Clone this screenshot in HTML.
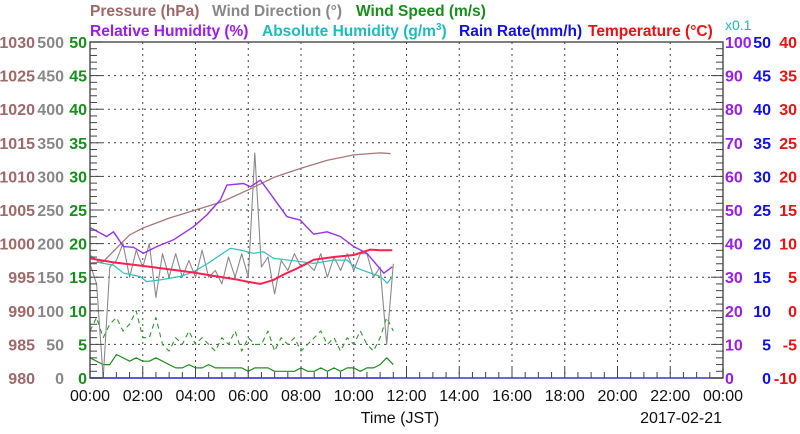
<!DOCTYPE html>
<html><head><meta charset="utf-8"><style>
html,body{margin:0;padding:0;background:#fff;}
svg{display:block;font-family:"Liberation Sans",sans-serif;}
</style></head><body>
<svg id="chart" width="800" height="434" viewBox="0 0 800 434" xmlns="http://www.w3.org/2000/svg">
<g id="titles" font-weight="bold" font-size="15.5">
 <text x="90" y="16" fill="#a06868">Pressure (hPa)</text>
 <text x="212" y="16" fill="#888">Wind Direction (°)</text>
 <text x="356" y="16" fill="#16901a">Wind Speed (m/s)</text>
 <text x="90" y="36" fill="#9a1cf0">Relative Humidity (%)</text>
 <text x="262" y="36" fill="#1cbcbc">Absolute Humidity (g/m<tspan font-size="10" dy="-6">3</tspan><tspan dy="6">)</tspan></text>
 <text x="459" y="36" fill="#1010ee">Rain Rate(mm/h)</text>
 <text x="588" y="36" fill="#f01010">Temperature (°C)</text>
 <text x="725" y="30" font-size="14" font-weight="normal" fill="#1cbcbc">x0.1</text>
</g>
<g id="grid"></g>
<g id="series"></g>
<g id="axes"></g>
<text x="400" y="423" font-size="16" text-anchor="middle" fill="#111">Time (JST)</text>
<text x="722" y="423" font-size="16" text-anchor="end" fill="#111">2017-02-21</text>
</svg>
<script>
// ---- data ----
const pressHours = [0,0.5,1,1.5,2,3,4,5,6,7,8,9,10,11,11.4];
const pressure = [997.1,997.3,999.3,1001.3,1002.3,1003.8,1005,1006.2,1008,1009.9,1011.2,1012.4,1013.2,1013.5,1013.4];
const rhHours = [0,0.63,0.89,1.27,1.65,2.03,2.53,3.16,3.92,4.43,4.94,5.19,5.82,6.08,6.46,6.96,7.47,7.97,8.48,8.99,9.49,10,10.5,11.14,11.46];
const relHum = [44.8,42.1,43.5,39.1,38.9,37.1,39.1,41.1,45,48.5,53,57.4,57.9,56.9,58.9,53.5,48,47,42.8,43.5,42.1,39.1,37.1,31.2,33.1];
const absHours = [0,0.38,0.89,1.27,1.9,2.15,2.66,3.42,3.92,4.43,4.94,5.32,5.7,6.2,6.58,6.96,7.72,8.48,9.24,9.75,10,10.5,11.01,11.27,11.46];
const absHum = [3.66,3.43,3.36,3.12,3.02,2.87,2.92,3.02,3.16,3.39,3.66,3.86,3.81,3.71,3.76,3.56,3.49,3.41,3.51,3.51,3.31,3.16,3.02,2.82,3.02];
const tempHours = [0,0.89,2.15,3.92,4.68,5.5,6.0,6.46,6.96,7.4,7.85,8.48,9.24,10,10.63,11.01,11.46];
const temperature = [7.8,7.2,6.6,5.7,5.2,4.7,4.3,4.0,4.6,5.5,6.3,7.6,8.0,8.3,9.1,9.0,9.0];
const windHours = [0,0.25,0.5,0.75,1,1.25,1.5,1.75,2,2.25,2.5,2.75,3,3.25,3.5,3.75,4,4.25,4.5,4.75,5,5.25,5.5,5.75,6,6.25,6.5,6.75,7,7.25,7.5,7.75,8,8.25,8.5,8.75,9,9.25,9.5,9.75,10,10.25,10.5,10.75,11,11.25,11.5];
const windDir = [170,140,0,165,175,200,150,190,165,200,120,185,150,185,150,175,150,190,150,160,140,180,150,185,150,335,165,180,125,175,160,185,165,170,160,185,150,180,160,185,160,185,185,150,165,50,170];
const windSpeed = [3,2.5,2,2,3.5,3,2.5,3,2.5,2.5,3,2.5,2,1.5,1.5,2,1.5,1.5,2,1.5,1.5,1.5,1.5,1.5,1,1.5,1.5,1.5,1,1,1,1,1.5,1,1,1.5,1,1.5,1,1.5,1.5,1,1.5,1.5,2,3,2];
const windGust = [7,9,6,8,9,7,8,10,6,6,9,5,4,6,5,7,5,6,5,4,6,5,7,4,6,5,5,7,4,6,5,6,4,5,6,7,5,6,4,6,5,7,5,4,6,9,7];
const rainHours = [0,11.4];
const rainRate = [0,0];
const xTickLabels = ["00:00","02:00","04:00","06:00","08:00","10:00","12:00","14:00","16:00","18:00","20:00","22:00","00:00"];
const pressTicks = [980,985,990,995,1000,1005,1010,1015,1020,1025,1030];
const dirTicks = [0,50,100,150,200,250,300,350,400,450,500];
const speedTicks = [0,5,10,15,20,25,30,35,40,45,50];
const rhTicks = [0,10,20,30,40,50,60,70,80,90,100];
const rainTicks = [0,5,10,15,20,25,30,35,40,45,50];
const tempTicks = [-10,-5,0,5,10,15,20,25,30,35,40];

// ---- layout ----
const L=90, R=723, T=42, B=378;
const NS="http://www.w3.org/2000/svg";
const xS = h => L + h/24*(R-L);
const lin = (min,max) => v => B - (v-min)/(max-min)*(B-T);
const yP=lin(980,1030), yD=lin(0,500), yW=lin(0,50), yRH=lin(0,100), yA=lin(0,10), yR=lin(0,50), yT=lin(-10,40);
function mk(tag, attrs, parent){const e=document.createElementNS(NS,tag);for(const k in attrs)e.setAttribute(k,attrs[k]);parent.appendChild(e);return e;}
const grid=document.getElementById('grid'), ser=document.getElementById('series'), axes=document.getElementById('axes');

for(let i=1;i<10;i++){const y=T+i*(B-T)/10;
 const g=mk('line',{x1:L,x2:R,y1:y,y2:y,stroke:'#444','stroke-width':1,'stroke-dasharray':'2,4'},grid);
 
 }
for(let i=1;i<12;i++){const x=xS(i*2);
 const g=mk('line',{x1:x,x2:x,y1:T,y2:B,stroke:'#444','stroke-width':1,'stroke-dasharray':'2,4'},grid);
 
 }

function line(hs, vs, ys, color, name, w, dash){
 const d=hs.map((h,i)=>(i?'L':'M')+xS(h).toFixed(1)+','+ys(vs[i]).toFixed(1)).join('');
 const p=mk('path',{d:d,fill:'none',stroke:color,'stroke-width':w||1.2,'stroke-linejoin':'round'},ser);
 if(dash)p.setAttribute('stroke-dasharray',dash);
 
 
}
line(windHours,windGust,yW,'#2a9a2a','wind-gust-line',1.1,'5,4');
line(windHours,windSpeed,yW,'#1a901a','wind-speed-line',1.2);
line(windHours,windDir,yD,'#8a8a8a','wind-direction-line',1.1);
line(pressHours,pressure,yP,'#a87878','pressure-line',1.3);
line(absHours,absHum,yA,'#30c0c0','absolute-humidity-line',1.2);
line(rhHours,relHum,yRH,'#9a30f0','relative-humidity-line',1.4);
line(tempHours,temperature,yT,'#ff2050','temperature-line',2);
line(rainHours,rainRate,yR,'#3030ee','rain-rate-line',1.5);

const f=mk('rect',{x:L,y:T,width:R-L,height:B-T,fill:'none',stroke:'#555','stroke-width':1.5},axes);


const bl=mk('line',{x1:L,x2:R,y1:B,y2:B,stroke:'#5555dd','stroke-width':1.5},axes);


for(let i=0;i<=50;i++){const y=T+i*(B-T)/50, len=(i%5==0)?12:7;
 mk('line',{x1:L,x2:L+len,y1:y,y2:y,stroke:'#444','stroke-width':1},axes);
 mk('line',{x1:R-len,x2:R,y1:y,y2:y,stroke:'#444','stroke-width':1},axes);}
for(let i=0;i<=48;i++){const x=xS(i/2), len=(i%4==0)?10:6;
 mk('line',{x1:x,x2:x,y1:B-len,y2:B,stroke:'#444','stroke-width':1},axes);}

function labels(arr, ys, x, anchor, color, name){
 arr.forEach(v=>{const t=mk('text',{x:x,y:ys(v)+6,'text-anchor':anchor,fill:color,'font-size':16,'font-weight':'bold'},axes);
  t.textContent=v;
  
  });
}
labels(pressTicks,yP,35,'end','#a06868','pressure-tick-label');
labels(dirTicks,yD,64,'end','#888','wind-direction-tick-label');
labels(speedTicks,yW,87,'end','#16901a','wind-speed-tick-label');
labels(rhTicks,yRH,725,'start','#9a1cf0','humidity-tick-label');
labels(rainTicks,yR,771,'end','#1010ee','rain-rate-tick-label');
labels(tempTicks,yT,797,'end','#f01010','temperature-tick-label');
xTickLabels.forEach((s,i)=>{const t=mk('text',{x:xS(i*2),y:401,'text-anchor':'middle',fill:'#111','font-size':16},axes);
 t.textContent=s;
 
 });
</script>
</body></html>
